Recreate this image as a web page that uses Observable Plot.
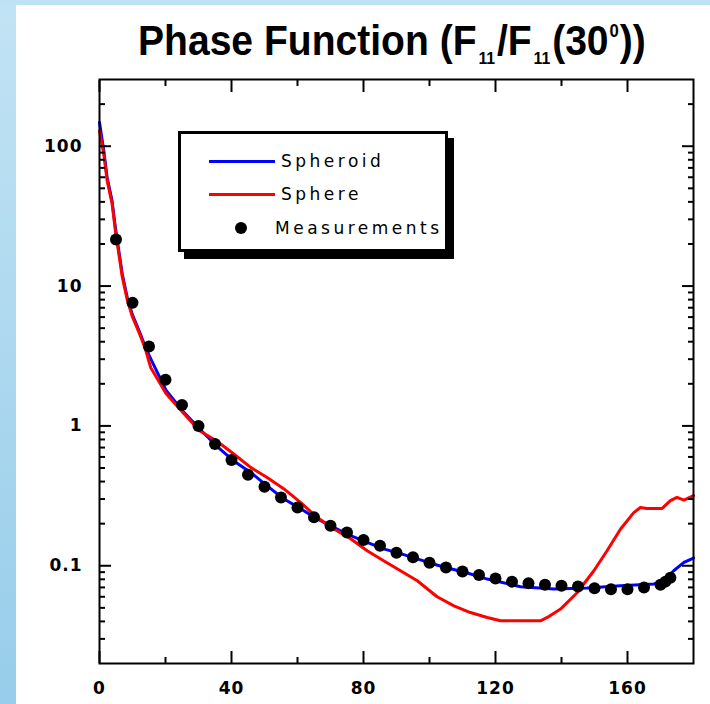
<!DOCTYPE html>
<html><head><meta charset="utf-8">
<script src="https://cdn.jsdelivr.net/npm/d3@7"></script>
<script src="https://cdn.jsdelivr.net/npm/@observablehq/plot@0.6"></script>
<style>
html,body{margin:0;padding:0;}
body{width:710px;height:704px;overflow:hidden;position:relative;background:linear-gradient(to bottom,#c2e3f4,#97cdea);}
#topstrip{position:absolute;left:0;top:0;width:710px;height:5px;background:#bee1f3;}
#panel{position:absolute;left:16px;top:5px;width:694px;height:699px;background:#fff;}
#title{position:relative;height:60px;font-family:"Liberation Sans",Arial,sans-serif;font-weight:bold;font-size:42px;color:#000;}
#title .t{position:absolute;left:122px;top:15px;line-height:42px;white-space:nowrap;transform:scaleX(0.93);transform-origin:0 0;}
.sub{font-size:17px;position:relative;top:9px;margin:0 2px;}
.sup{font-size:18px;position:relative;top:-18px;margin:0 1px;}
#chart svg text{letter-spacing:1px;}
#legend{position:absolute;left:162px;top:126px;width:264px;height:115px;border:3px solid #000;box-shadow:6px 7px 0 #000;background:#fff;font-family:"DejaVu Sans",sans-serif;font-size:17px;letter-spacing:3.5px;color:#000;}
#legend .ln{position:absolute;left:28px;width:66px;height:3px;}
#legend .lab{position:absolute;line-height:20px;white-space:nowrap;}
#legend .dot{position:absolute;width:12px;height:12px;border-radius:50%;background:#000;}
</style>
</head>
<body>
<div id="topstrip"></div>
<div id="panel">
  <div id="title"><div class="t">Phase Function (F<span class="sub">11</span>/F<span class="sub">11</span>(30<span class="sup">0</span>))</div></div>
  <div id="chart"></div>
  <div id="legend"></div>
</div>
<script>
// Data
const SPHEROID_ANGLE = [0, 1.3, 2.3, 3.8, 4.8, 6.9, 8.4, 9.9, 12.4, 13.9, 15.5, 20.2, 25.2, 30.3, 35.4, 40.6, 45.8, 50.8, 55.8, 60.9, 65.9, 70.9, 76.1, 81.1, 86.1, 91.2, 96.3, 101.2, 105.3, 110, 117.5, 127.6, 137.7, 147.8, 157.9, 168, 171, 174, 177.1, 180];
const SPHEROID_VALUE = [148, 93, 60, 40.8, 26.3, 12.2, 8.3, 6.3, 4.54, 3.65, 3.03, 1.79, 1.28, 0.955, 0.721, 0.564, 0.465, 0.373, 0.301, 0.256, 0.217, 0.188, 0.164, 0.147, 0.132, 0.122, 0.112, 0.103, 0.0963, 0.091, 0.0803, 0.0708, 0.0681, 0.0693, 0.0719, 0.0740, 0.0781, 0.0921, 0.1056, 0.1135];

const SPHERE_ANGLE = [0, 1.3, 2.3, 3.8, 4.8, 6.9, 8.4, 9.9, 12.4, 13.9, 15.5, 20.2, 25.2, 30.3, 35.4, 40.6, 45.8, 50.8, 55.8, 60.9, 65.9, 70.9, 76.1, 81.1, 86.1, 91.2, 96.3, 99.3, 102.3, 107.4, 112.4, 117.5, 121.5, 127.6, 133.6, 135.7, 139.7, 144.8, 149.8, 153.8, 157.9, 161.9, 163.9, 165.9, 170.5, 173, 175, 177.1, 180];
const SPHERE_VALUE = [129, 88, 57, 39, 25, 11.6, 8.0, 6.1, 4.4, 3.55, 2.62, 1.70, 1.25, 0.924, 0.783, 0.632, 0.505, 0.428, 0.356, 0.284, 0.222, 0.184, 0.156, 0.128, 0.1086, 0.0921, 0.0781, 0.0685, 0.060, 0.0517, 0.0463, 0.0427, 0.0404, 0.0404, 0.0404, 0.0427, 0.049, 0.0644, 0.0921, 0.128, 0.183, 0.240, 0.261, 0.257, 0.257, 0.292, 0.308, 0.295, 0.317];

const MEAS_ANGLE = [5, 10, 15, 20, 25, 30, 35, 40, 45, 50, 55, 60, 65, 70, 75, 80, 85, 90, 95, 100, 105, 110, 115, 120, 125, 130, 135, 140, 145, 150, 155, 160, 165, 170, 171.5, 173];
const MEAS_VALUE = [21.5, 7.6, 3.7, 2.14, 1.41, 1.00, 0.742, 0.570, 0.448, 0.367, 0.308, 0.261, 0.222, 0.193, 0.173, 0.153, 0.139, 0.124, 0.115, 0.105, 0.097, 0.091, 0.086, 0.081, 0.077, 0.075, 0.073, 0.072, 0.071, 0.069, 0.068, 0.068, 0.070, 0.073, 0.077, 0.082];

const X_MAJOR = [0, 40, 80, 120, 160];
const X_MINOR = [20, 60, 100, 140];
const Y_MAJOR = [0.1, 1, 10, 100];
const Y_MINOR = [0.03, 0.04, 0.05, 0.06, 0.07, 0.08, 0.09, 0.2, 0.3, 0.4, 0.5, 0.6, 0.7, 0.8, 0.9, 2, 3, 4, 5, 6, 7, 8, 9, 20, 30, 40, 50, 60, 70, 80, 90, 200];

const SERIES = ["Spheroid", "Sphere", "Measurements"];
const COLORS = ["#0000ff", "#ff0000", "#000000"];

const spheroid = SPHEROID_ANGLE.map((a, i) => ({angle: a, value: SPHEROID_VALUE[i]}));
const sphere = SPHERE_ANGLE.map((a, i) => ({angle: a, value: SPHERE_VALUE[i]}));
const meas = MEAS_ANGLE.map((a, i) => ({angle: a, value: MEAS_VALUE[i]}));

const blank = () => "";
const tickStyle = {tickSize: -12, tickFormat: blank, strokeWidth: 2, label: null};
const minorStyle = {tickSize: -6, tickFormat: blank, strokeWidth: 2, label: null};
const labelFont = {fontSize: 17, fontWeight: "bold", fontFamily: "DejaVu Sans", label: null};

const chart = Plot.plot({
  width: 694,
  height: 639,
  marginLeft: 83,
  marginRight: 17,
  marginTop: 14,
  marginBottom: 41,
  style: {background: "transparent", fontFamily: "DejaVu Sans", color: "#000"},
  x: {domain: [0, 180], label: null},
  y: {type: "log", domain: [0.02, 300], label: null},
  marks: [
    Plot.line(spheroid, {x: "angle", y: "value", stroke: COLORS[0], strokeWidth: 3}),
    Plot.line(sphere, {x: "angle", y: "value", stroke: COLORS[1], strokeWidth: 3}),
    Plot.dot(meas, {x: "angle", y: "value", r: 6, fill: COLORS[2], stroke: null}),
    Plot.axisX(X_MAJOR, {anchor: "bottom", ...tickStyle}),
    Plot.axisX(X_MINOR, {anchor: "bottom", ...minorStyle}),
    Plot.axisX(X_MAJOR, {anchor: "top", ...tickStyle}),
    Plot.axisX(X_MINOR, {anchor: "top", ...minorStyle}),
    Plot.axisY(Y_MAJOR, {anchor: "left", ...tickStyle}),
    Plot.axisY(Y_MINOR, {anchor: "left", ...minorStyle}),
    Plot.axisY(Y_MAJOR, {anchor: "right", ...tickStyle}),
    Plot.axisY(Y_MINOR, {anchor: "right", ...minorStyle}),
    Plot.axisX(X_MAJOR, {anchor: "bottom", tickSize: 0, tickPadding: 18, tickFormat: d => String(d), ...labelFont}),
    Plot.axisY(Y_MAJOR, {anchor: "left", tickSize: 0, tickPadding: 17, tickFormat: d => String(d), ...labelFont}),
    Plot.frame({stroke: "#000", strokeWidth: 2})
  ]
});
document.getElementById("chart").appendChild(chart);

// Legend
const legend = document.getElementById("legend");
const rows = [27, 60, 94];
SERIES.forEach((name, i) => {
  if (i < 2) {
    const l = document.createElement("div");
    l.className = "ln";
    l.style.top = (rows[i] - 1.5) + "px";
    l.style.background = COLORS[i];
    legend.appendChild(l);
  } else {
    const d = document.createElement("div");
    d.className = "dot";
    d.style.left = (60 - 6) + "px";
    d.style.top = (rows[i] - 6) + "px";
    legend.appendChild(d);
  }
  const t = document.createElement("div");
  t.className = "lab";
  t.textContent = name;
  t.style.left = (i < 2 ? 100 : 94) + "px";
  t.style.top = (rows[i] - 10) + "px";
  legend.appendChild(t);
});
</script>
</body></html>
